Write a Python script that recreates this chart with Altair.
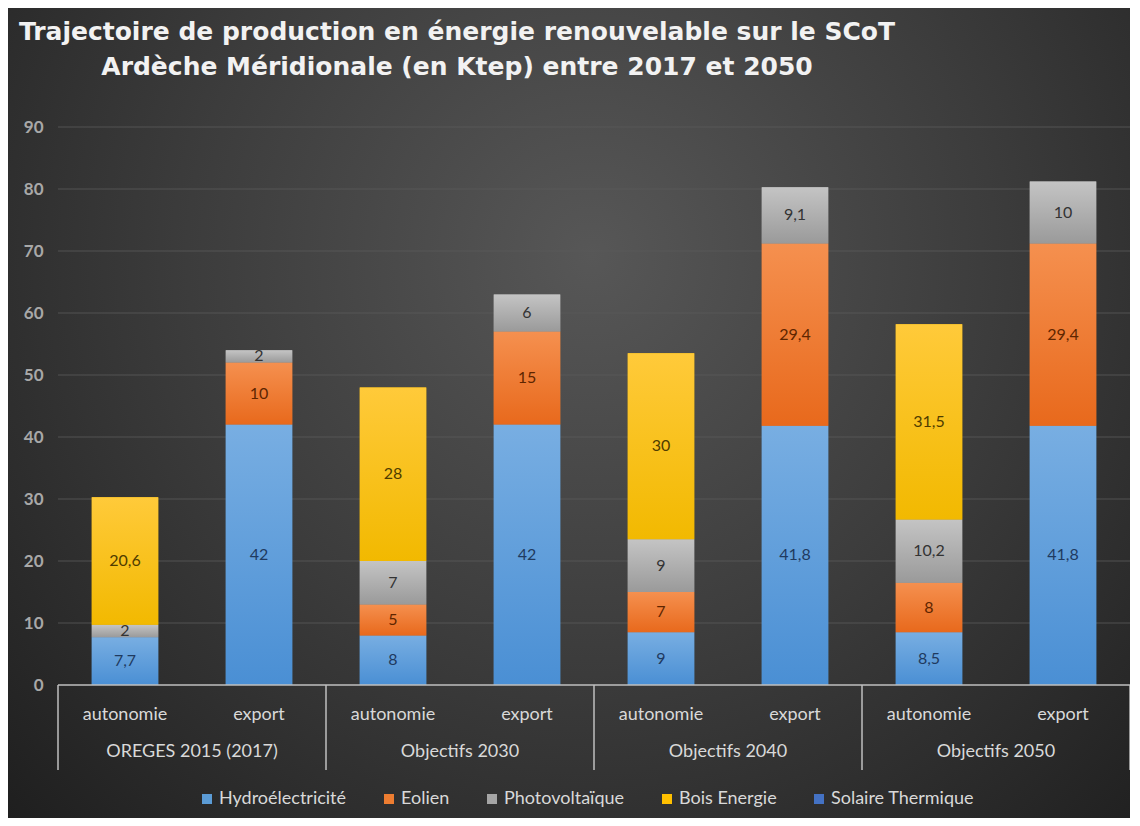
import altair as alt
import pandas as pd

title_lines = ["Trajectoire de production en énergie renouvelable sur le SCoT",
               "Ardèche Méridionale (en Ktep) entre 2017 et 2050"]
groups = ["OREGES 2015 (2017)", "Objectifs 2030", "Objectifs 2040", "Objectifs 2050"]
kinds = ["autonomie", "export"]
series = ["Hydroélectricité", "Eolien", "Photovoltaïque", "Bois Energie", "Solaire Thermique"]
hydro = [7.7, 42, 8, 42, 8.5, 41.8, 8.5, 41.8]
eolien = [0, 10, 5, 15, 6.5, 29.4, 8, 29.4]
photovoltaique = [2, 2, 7, 6, 8.5, 9.1, 10.2, 10]
bois = [20.6, 0, 28, 0, 30, 0, 31.5, 0]
solaire = [0, 0, 0, 0, 0, 0, 0, 0]
# labels printed on the 2040 "autonomie" bar (rounded in the source)
labels_2040_auto = {"Hydroélectricité": "9", "Eolien": "7", "Photovoltaïque": "9"}
y_ticks = [0, 10, 20, 30, 40, 50, 60, 70, 80, 90]

colors = ["#5B9BD5", "#ED7D31", "#A5A5A5", "#FFC000", "#4472C4"]
top_colors = ["#78aee2", "#f5904f", "#c4c4c4", "#ffca3a", "#5a86d0"]
bottom_colors = ["#4a8fd4", "#e8691c", "#9a9a9a", "#f2b900", "#3a66b8"]
text_colors = ["#1F3A5F", "#5E2500", "#333333", "#4F3C00", "#1F3A5F"]
FONT = "Lato"
W, H = 1072, 558

values = [hydro, eolien, photovoltaique, bois, solaire]
rows = []
for i in range(len(groups) * len(kinds)):
    cum = 0.0
    for s, vals in zip(series, values):
        v = vals[i]
        if v <= 0:
            continue
        lab = f"{v:g}".replace(".", ",")
        if i == 4 and s in labels_2040_auto:
            lab = labels_2040_auto[s]
        rows.append({"i": i, "serie": s, "v": v, "start": cum, "end": cum + v,
                     "mid": cum + v / 2, "lab": lab})
        cum += v
df = pd.DataFrame(rows)

sub_df = pd.DataFrame({"i": list(range(len(groups) * len(kinds))),
                       "k": [k for g in groups for k in kinds]})
grp_df = pd.DataFrame({"g": groups, "c": [j * 2 + 0.5 for j in range(len(groups))]})
sep_df = pd.DataFrame({"b": [j * 2 - 0.5 for j in range(len(groups) + 1)]})
grid_df = pd.DataFrame({"t": y_ticks[1:]})

xs = alt.Scale(domain=[-0.5, 7.5], nice=False, zero=False)
ys = alt.Scale(domain=[0, 90], nice=False)

bg = alt.Chart(pd.DataFrame({"a": [0]})).mark_rect(
    fill=alt.RadialGradient(
        gradient="radial", x1=0.52, y1=0.36, r1=0.0, x2=0.52, y2=0.36, r2=0.72,
        stops=[alt.GradientStop(offset=0, color="#575757"),
               alt.GradientStop(offset=0.5, color="#3c3c3c"),
               alt.GradientStop(offset=1, color="#1f1f1f")]),
    clip=False
).encode(x=alt.value(-50), x2=alt.value(W), y=alt.value(-119), y2=alt.value(H + 133))

grid = alt.Chart(grid_df).mark_rule(color="#5a5a5a", strokeWidth=1, opacity=0.8).encode(
    y=alt.Y("t:Q", scale=ys), x=alt.value(0), x2=alt.value(W))

bars = alt.Chart(df).transform_calculate(
    x0="datum.i - 0.248", x1="datum.i + 0.248"
).mark_bar(clip=False).encode(
    x=alt.X("x0:Q", scale=xs, axis=None),
    x2="x1:Q",
    y=alt.Y("start:Q", scale=ys,
            axis=alt.Axis(values=y_ticks, title=None, domain=False, ticks=False, grid=False,
                          labelFont=FONT, labelFontSize=17, labelFontWeight="bold",
                          labelColor="#a8a8a8", labelPadding=15, zindex=1)),
    y2="end:Q",
    color=alt.Color("serie:N", scale=alt.Scale(domain=series, range=colors),
                    legend=alt.Legend(title=None, orient="none", direction="horizontal",
                                      legendX=140, legendY=663, symbolType="square",
                                      symbolSize=100, symbolStrokeWidth=0,
                                      labelFont=FONT, labelFontSize=18,
                                      labelColor="#d9d9d9", columnPadding=33,
                                      labelOffset=3)),
)

# gradient shading of each segment (one overlay per series)
shades = []
for s, c_top, c_bot in zip(series, top_colors, bottom_colors):
    shades.append(
        alt.Chart(df).transform_filter(alt.datum.serie == s).transform_calculate(
            x0="datum.i - 0.248", x1="datum.i + 0.248"
        ).mark_bar(fill=alt.LinearGradient(
            gradient="linear", x1=0, y1=0, x2=0, y2=1,
            stops=[alt.GradientStop(offset=0, color=c_top),
                   alt.GradientStop(offset=1, color=c_bot)])).encode(
            x=alt.X("x0:Q", scale=xs), x2="x1:Q",
            y=alt.Y("start:Q", scale=ys), y2="end:Q")
    )

labels = alt.Chart(df).mark_text(font=FONT, fontSize=16, baseline="middle").encode(
    x=alt.X("i:Q", scale=xs),
    y=alt.Y("mid:Q", scale=ys),
    text="lab:N",
    color=alt.Color("serie:N", scale=alt.Scale(domain=series, range=text_colors), legend=None),
)

axis_line = alt.Chart(pd.DataFrame({"a": [-0.5], "b": [7.5]})).mark_rule(
    color="#bfbfbf", strokeWidth=1.5).encode(
    x=alt.X("a:Q", scale=xs), x2="b:Q", y=alt.value(H))

seps = alt.Chart(sep_df).mark_rule(color="#bfbfbf", strokeWidth=1.5, clip=False).encode(
    x=alt.X("b:Q", scale=xs), y=alt.value(H), y2=alt.value(H + 85))

sub_text = alt.Chart(sub_df).mark_text(font=FONT, fontSize=18, color="#d9d9d9",
                                       baseline="middle").encode(
    x=alt.X("i:Q", scale=xs), y=alt.value(H + 30), text="k:N")

grp_text = alt.Chart(grp_df).mark_text(font=FONT, fontSize=18, color="#d9d9d9",
                                       baseline="middle").encode(
    x=alt.X("c:Q", scale=xs), y=alt.value(H + 67), text="g:N")

title_layers = []
for line, yv in zip(title_lines, [-95, -60]):
    title_layers.append(
        alt.Chart(pd.DataFrame({"t": [line]})).mark_text(
            font="DejaVu Sans", fontSize=25, fontWeight="bold", color="#f2f2f2",
            align="center", baseline="middle", clip=False).encode(
            x=alt.value(399), y=alt.value(yv), text="t:N")
    )

chart = alt.layer(bg, grid, bars, *shades, labels, axis_line, seps, sub_text, grp_text,
                  *title_layers).resolve_scale(
    color="independent"
).properties(
    width=W, height=H,
    padding={"left": 50, "top": 119, "right": 0, "bottom": 133},
    autosize=alt.AutoSizeParams(type="none"),
    background="#2a2a2a",
).configure_view(stroke=None)

chart.save("out.html", embed_options={"renderer": "svg", "actions": False})
